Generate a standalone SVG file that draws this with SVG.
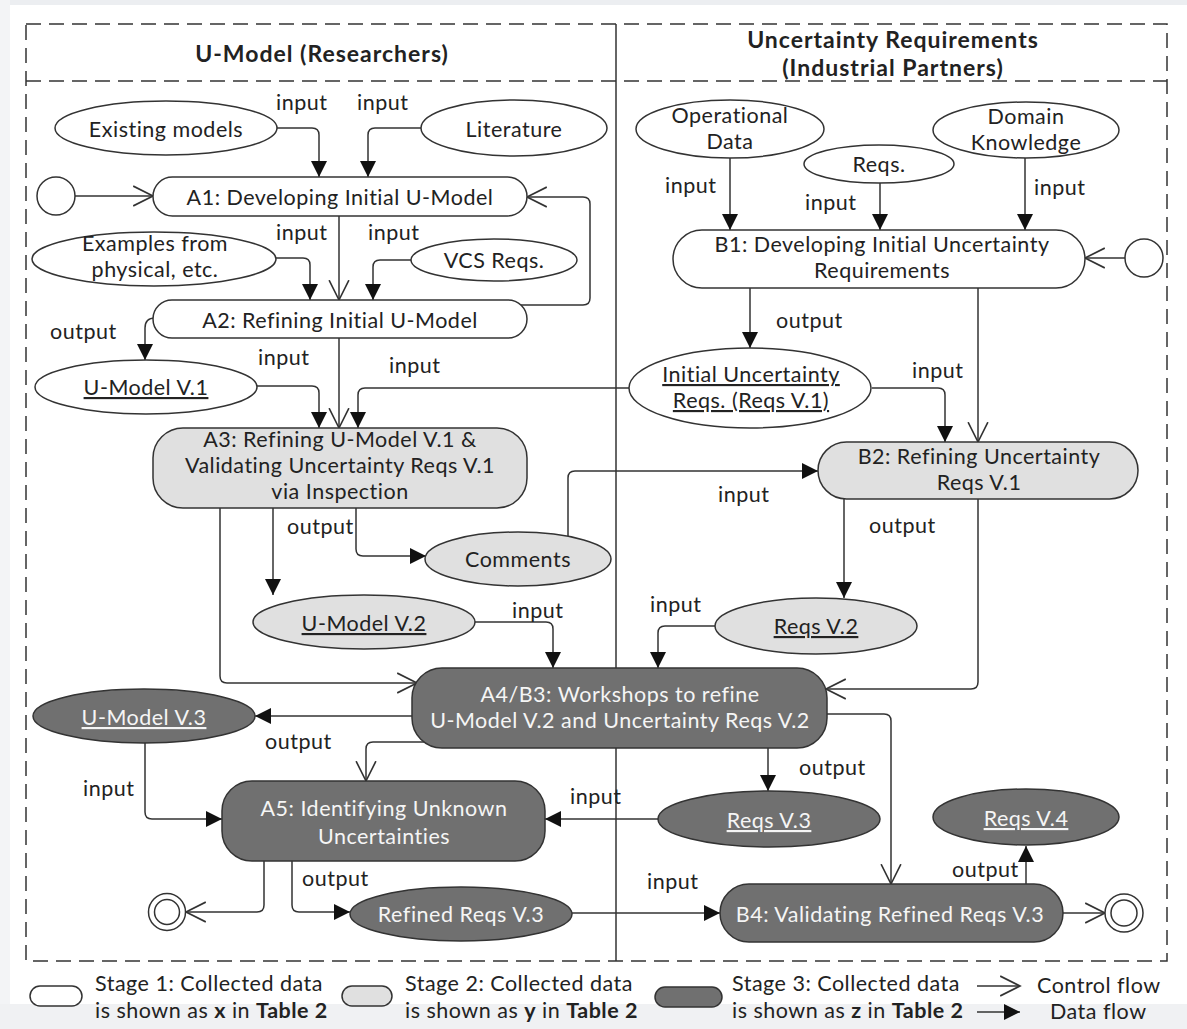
<svg xmlns="http://www.w3.org/2000/svg" width="1187" height="1029" viewBox="0 0 1187 1029">
<style>
.t{font-family:Lato,'Liberation Sans',sans-serif;font-size:21.5px;letter-spacing:0.5px;fill:#222}
.c{text-anchor:middle}
.w{fill:#f5f5f5}
.u{text-decoration:underline}
.h{font-weight:bold;font-size:23px;letter-spacing:1px}
.b{font-weight:bold}
.n1{fill:#fff;stroke:#333;stroke-width:1.5}
.n2{fill:#e0e0e0;stroke:#333;stroke-width:1.5}
.n3{fill:#707070;stroke:#333;stroke-width:1.5}
.e{fill:none;stroke:#333;stroke-width:1.5}
.df{marker-end:url(#mf)}
.cf{marker-end:url(#mo)}
.fr{fill:none;stroke:#333;stroke-width:1.5;stroke-dasharray:15 8}
</style>
<defs>
<marker id="mf" markerUnits="userSpaceOnUse" markerWidth="18" markerHeight="18" refX="16" refY="8" orient="auto" viewBox="0 0 18 16">
<path d="M0,0 L16,8 L0,16 Z" fill="#111"/>
</marker>
<marker id="mo" markerUnits="userSpaceOnUse" markerWidth="22" markerHeight="22" refX="18" refY="9" orient="auto" viewBox="0 0 20 18">
<path d="M0,0 L18,9 L0,18" fill="none" stroke="#333" stroke-width="1.5"/>
</marker>
</defs>
<rect x="0" y="0" width="1187" height="1029" fill="#fff"/>
<rect x="0" y="0" width="1187" height="5" fill="#eceef1"/>
<rect x="0" y="0" width="10" height="1029" fill="#f3f4f6"/>
<rect x="0" y="1004" width="1187" height="25" fill="#f0f1f3"/>

<g id="frame">
<rect class="fr" x="26" y="24" width="1141" height="937"/>
<line class="fr" x1="26" y1="81" x2="1167" y2="81"/>
<line x1="616" y1="24" x2="616" y2="961" stroke="#333" stroke-width="1.5"/>
<text class="t c h" x="322" y="62">U-Model (Researchers)</text>
<text class="t c h" x="893" y="48">Uncertainty Requirements</text>
<text class="t c h" x="893" y="76">(Industrial Partners)</text>
</g>

<g id="connectors">
<path class="e cf" d="M75,196 H153"/>
<path class="e df" d="M277,128 H312 Q319,128 319,135 V177"/>
<path class="e df" d="M421,128 H375 Q368,128 368,135 V177"/>
<path class="e cf" d="M339,216 V300"/>
<path class="e df" d="M276,258 H303 Q310,258 310,265 V300"/>
<path class="e df" d="M411,260 H380 Q373,260 373,267 V300"/>
<path class="e cf" d="M521,305 H583 Q590,305 590,298 V204 Q590,197 583,197 H527"/>
<path class="e df" d="M155,318 Q145,318 145,328 V360"/>
<path class="e cf" d="M339,338 V428"/>
<path class="e df" d="M257,386 H312 Q319,386 319,393 V428"/>
<path class="e df" d="M629,388 H365 Q358,388 358,395 V428"/>
<path class="e df" d="M273,508 V595"/>
<path class="e df" d="M356,508 V549 Q356,556 363,556 H426"/>
<path class="e df" d="M568,536 V478 Q568,471 575,471 H818"/>
<path class="e cf" d="M220,508 V676 Q220,683 227,683 H417"/>
<path class="e df" d="M475,622 H546 Q553,622 553,629 V668"/>
<path class="e df" d="M715,626 H665 Q658,626 658,633 V668"/>
<path class="e cf" d="M978,499 V682 Q978,689 971,689 H826"/>
<path class="e cf" d="M827,714 H884 Q891,714 891,721 V884"/>
<path class="e df" d="M412,716 H255"/>
<path class="e cf" d="M424,742 H373 Q366,742 366,749 V781"/>
<path class="e df" d="M145,743 V812 Q145,819 152,819 H222"/>
<path class="e df" d="M768,748 V791"/>
<path class="e df" d="M658,819 H545"/>
<path class="e cf" d="M264,861 V905 Q264,912 257,912 H186"/>
<path class="e df" d="M292,861 V905 Q292,912 299,912 H350"/>
<path class="e df" d="M572,913 H720"/>
<path class="e df" d="M1026,884 V846"/>
<path class="e cf" d="M1063,913 H1105"/>
<path class="e cf" d="M1125,258 H1085"/>
<path class="e df" d="M730,158 V230"/>
<path class="e df" d="M880,183 V230"/>
<path class="e df" d="M1025,158 V230"/>
<path class="e df" d="M750,288 V348"/>
<path class="e df" d="M872,388 H938 Q945,388 945,395 V442"/>
<path class="e cf" d="M978,288 V442"/>
<path class="e df" d="M844,499 V598"/>
<g class="t">
<text x="276" y="110">input</text>
<text x="357" y="110">input</text>
<text x="276" y="240">input</text>
<text x="368" y="240">input</text>
<text x="50" y="339">output</text>
<text x="258" y="365">input</text>
<text x="389" y="373">input</text>
<text x="287" y="534">output</text>
<text x="718" y="502">input</text>
<text x="512" y="618">input</text>
<text x="650" y="612">input</text>
<text x="265" y="749">output</text>
<text x="83" y="796">input</text>
<text x="570" y="804">input</text>
<text x="799" y="775">output</text>
<text x="302" y="886">output</text>
<text x="647" y="889">input</text>
<text x="952" y="877">output</text>
<text x="665" y="193">input</text>
<text x="805" y="210">input</text>
<text x="1034" y="195">input</text>
<text x="776" y="328">output</text>
<text x="912" y="378">input</text>
<text x="869" y="533">output</text>
</g>
</g>

<g id="startA"><circle class="n1" cx="56" cy="196" r="19"/></g>
<g id="existing"><ellipse class="n1" cx="166" cy="128" rx="111" ry="27"/><text class="t c" x="166" y="137">Existing models</text></g>
<g id="literature"><ellipse class="n1" cx="514" cy="128" rx="93" ry="28"/><text class="t c" x="514" y="137">Literature</text></g>
<g id="A1"><rect class="n1" x="153" y="177" width="374" height="39" rx="19.5"/><text class="t c" x="340" y="205">A1: Developing Initial U-Model</text></g>
<g id="examples"><ellipse class="n1" cx="154" cy="259" rx="122" ry="27"/><text class="t c" x="155" y="251">Examples from</text><text class="t c" x="155" y="277">physical, etc.</text></g>
<g id="vcs"><ellipse class="n1" cx="494" cy="260" rx="83" ry="21"/><text class="t c" x="494" y="268">VCS Reqs.</text></g>
<g id="A2"><rect class="n1" x="153" y="300" width="374" height="38" rx="19"/><text class="t c" x="340" y="328">A2: Refining Initial U-Model</text></g>
<g id="umv1"><ellipse class="n1" cx="146" cy="387" rx="111" ry="27"/><text class="t c u" x="146" y="395">U-Model V.1</text></g>
<g id="A3"><rect class="n2" x="153" y="428" width="374" height="80" rx="30"/><text class="t c" x="340" y="447">A3: Refining U-Model V.1 &amp;</text><text class="t c" x="340" y="473">Validating Uncertainty Reqs V.1</text><text class="t c" x="340" y="499">via Inspection</text></g>
<g id="comments"><ellipse class="n2" cx="518" cy="559" rx="93" ry="27"/><text class="t c" x="518" y="567">Comments</text></g>
<g id="umv2"><ellipse class="n2" cx="364" cy="622" rx="111" ry="27"/><text class="t c u" x="364" y="631">U-Model V.2</text></g>
<g id="A4B3"><rect class="n3" x="412" y="668" width="415" height="80" rx="30"/><text class="t c w" x="620" y="702">A4/B3: Workshops to refine</text><text class="t c w" x="620" y="728">U-Model V.2 and Uncertainty Reqs V.2</text></g>
<g id="umv3"><ellipse class="n3" cx="144" cy="716" rx="111" ry="27"/><text class="t c u w" x="144" y="725">U-Model V.3</text></g>
<g id="A5"><rect class="n3" x="222" y="781" width="323" height="80" rx="30"/><text class="t c w" x="384" y="816">A5: Identifying Unknown</text><text class="t c w" x="384" y="844">Uncertainties</text></g>
<g id="reqsv3"><ellipse class="n3" cx="769" cy="819" rx="111" ry="28"/><text class="t c u w" x="769" y="828">Reqs V.3</text></g>
<g id="endA"><circle class="n1" cx="167" cy="912" r="18.5"/><circle fill="none" stroke="#333" stroke-width="1.5" cx="167" cy="912" r="12.5"/></g>
<g id="refined"><ellipse class="n3" cx="461" cy="914" rx="111" ry="27"/><text class="t c w" x="461" y="922">Refined Reqs V.3</text></g>
<g id="B4"><rect class="n3" x="720" y="884" width="343" height="58" rx="29"/><text class="t c w" x="890" y="922">B4: Validating Refined Reqs V.3</text></g>
<g id="reqsv4"><ellipse class="n3" cx="1026" cy="817" rx="93" ry="28"/><text class="t c u w" x="1026" y="826">Reqs V.4</text></g>
<g id="endB"><circle class="n1" cx="1124" cy="913" r="19"/><circle fill="none" stroke="#333" stroke-width="1.5" cx="1124" cy="913" r="13"/></g>
<g id="opdata"><ellipse class="n1" cx="730" cy="129" rx="94" ry="29"/><text class="t c" x="730" y="123">Operational</text><text class="t c" x="730" y="149">Data</text></g>
<g id="reqs"><ellipse class="n1" cx="879" cy="164" rx="75" ry="19"/><text class="t c" x="879" y="172">Reqs.</text></g>
<g id="domain"><ellipse class="n1" cx="1026" cy="130" rx="93" ry="28"/><text class="t c" x="1026" y="124">Domain</text><text class="t c" x="1026" y="150">Knowledge</text></g>
<g id="B1"><rect class="n1" x="673" y="230" width="412" height="58" rx="29"/><text class="t c" x="882" y="252">B1: Developing Initial Uncertainty</text><text class="t c" x="882" y="278">Requirements</text></g>
<g id="startB"><circle class="n1" cx="1144" cy="258" r="19"/></g>
<g id="initunc"><ellipse class="n1" cx="750" cy="388" rx="121" ry="40"/><text class="t c u" x="751" y="382">Initial Uncertainty</text><text class="t c u" x="751" y="408">Reqs. (Reqs V.1)</text></g>
<g id="B2"><rect class="n2" x="818" y="442" width="320" height="57" rx="28.5"/><text class="t c" x="979" y="464">B2: Refining Uncertainty</text><text class="t c" x="979" y="490">Reqs V.1</text></g>
<g id="reqsv2"><ellipse class="n2" cx="816" cy="626" rx="101" ry="28"/><text class="t c u" x="816" y="634">Reqs V.2</text></g>

<g id="legend">
<rect class="n1" x="30" y="986" width="52" height="20" rx="10"/>
<text class="t" x="95" y="991">Stage 1: Collected data</text>
<text class="t" x="95" y="1018">is shown as <tspan class="b">x</tspan> in <tspan class="b">Table 2</tspan></text>
<rect class="n2" x="342" y="986" width="50" height="20" rx="10"/>
<text class="t" x="405" y="991">Stage 2: Collected data</text>
<text class="t" x="405" y="1018">is shown as <tspan class="b">y</tspan> in <tspan class="b">Table 2</tspan></text>
<rect class="n3" x="655" y="987" width="67" height="20" rx="10"/>
<text class="t" x="732" y="991">Stage 3: Collected data</text>
<text class="t" x="732" y="1018">is shown as <tspan class="b">z</tspan> in <tspan class="b">Table 2</tspan></text>
<path class="e cf" d="M977,986 H1020"/>
<path class="e df" d="M977,1012 H1020"/>
<text class="t" x="1037" y="993">Control flow</text>
<text class="t" x="1050" y="1019">Data flow</text>
</g>
</svg>
